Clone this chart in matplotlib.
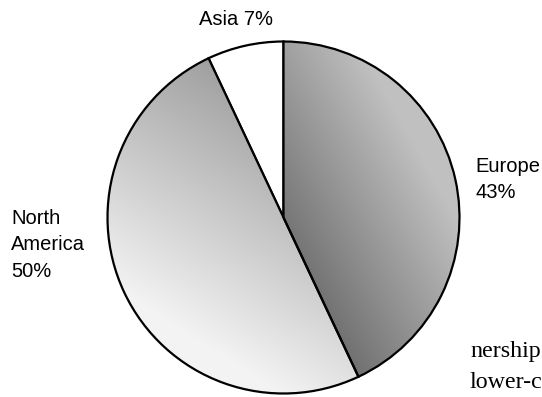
import matplotlib.pyplot as plt
import numpy as np

regions = ['Europe', 'North America', 'Asia']
shares = [43, 50, 7]
labels = ['Europe\n43%', 'North\nAmerica\n50%', 'Asia 7%']
# gradient ends for each slice: (dark point, dark grey, light point, light grey)
shading = [((300, 80), 0.40, (460, 170), 0.75),
           ((240, 340), 0.60, (100, 120), 0.95),
           None]
page_lines = ['nership', 'lower-c']

fig = plt.figure(figsize=(5.42, 3.97), dpi=100)
ax = fig.add_axes([0, 0, 1, 1])

cx, cy, r = 283.5, 179.5, 176
wedges, _ = ax.pie(shares, startangle=90, counterclock=False, center=(cx, cy),
                   radius=r, frame=True, colors=['white'] * 3,
                   wedgeprops=dict(edgecolor='black', linewidth=1.6))
ax.set_xlim(0, 542)
ax.set_ylim(0, 397)
ax.axis('off')

xx, yy = np.meshgrid(np.linspace(0, 542, 543), np.linspace(0, 397, 398))
for w, sh in zip(wedges, shading):
    if sh is None:
        continue
    (x0, y0), v0, (x1, y1), v1 = sh
    dx, dy = x1 - x0, y1 - y0
    t = ((xx - x0) * dx + (yy - y0) * dy) / (dx * dx + dy * dy)
    vals = v0 + (v1 - v0) * np.clip(t, 0, 1)
    im = ax.imshow(vals, cmap='gray', vmin=0, vmax=1, origin='lower',
                   extent=(0, 542, 0, 397), interpolation='bilinear', zorder=1.5)
    im.set_clip_path(w)
    w.set_zorder(2)
    w.set_facecolor('none')

font = dict(family='Liberation Sans', fontsize=14.5, linespacing=1.5)
ax.text(475, 397 - 157, labels[0], va='top', ha='left', **font)
ax.text(11, 397 - 209, labels[1], va='top', ha='left', **font)
ax.text(199, 397 - 10, labels[2], va='top', ha='left', **font)

# bits of the page text beside the chart
for i, line in enumerate(page_lines):
    ax.text(470, 397 - 357 - 31 * i, line, va='baseline', ha='left',
            family='Liberation Serif', fontsize=17.3)

fig.savefig('out.png', dpi=100)
